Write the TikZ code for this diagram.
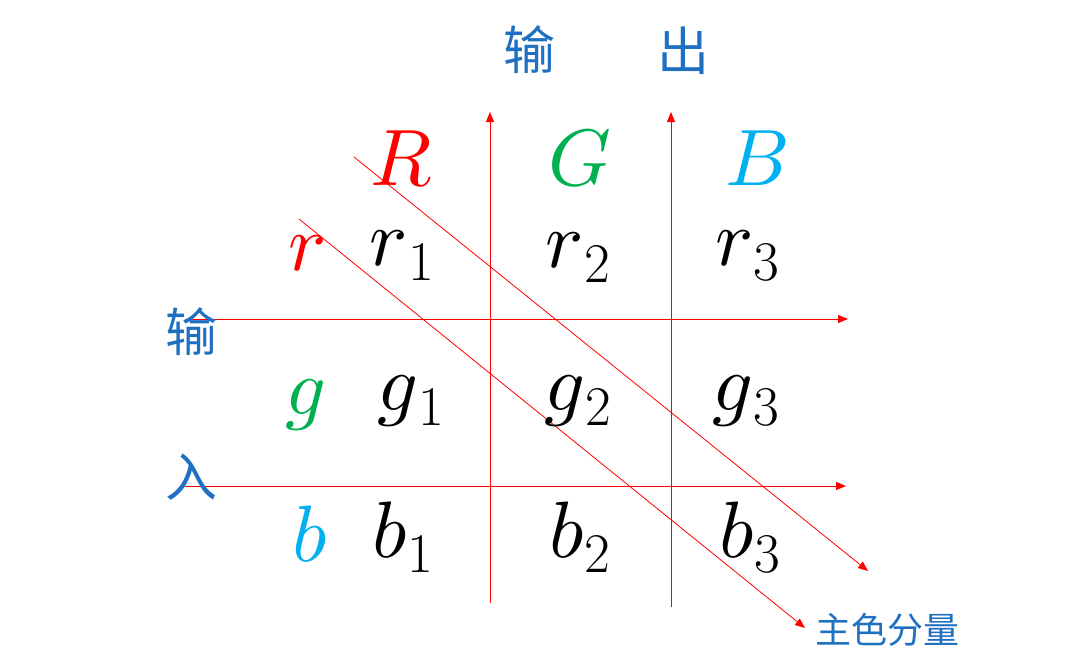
\documentclass[tikz,border=0pt]{standalone}
\usepackage{fontspec}
\newfontfamily\cjk{Noto Sans CJK SC}
\usetikzlibrary{arrows.meta}
% scalable math italic
\DeclareFontShape{OML}{cmm}{m}{it}{<-> cmmi10}{}
\DeclareFontShape{OT1}{cmr}{m}{n}{<-> cmr10}{}
\newcommand\subidx[1]{\raisebox{-15pt}{\fontsize{56}{56}\selectfont #1}}

\definecolor{cred}{RGB}{255,0,0}
\definecolor{cgreen}{RGB}{0,176,80}
\definecolor{ccyan}{RGB}{0,176,240}
\definecolor{cblue}{RGB}{31,112,192}

\tikzset{
  axis/.style={line width=0.8, color=cred, -{Triangle[length=10pt,width=8pt]}},
  entry/.style={inner sep=0, anchor=base, font=\fontsize{80}{80}\selectfont},
  cjklabel/.style={inner sep=0, text=cblue, font=\cjk\fontsize{52}{52}\selectfont},
}

\begin{document}
\begin{tikzpicture}[x=1pt, y=-1pt]
\useasboundingbox (0,0) rectangle (1078,657);
% axis end points
\coordinate (colA0) at (490,603);
\coordinate (colA1) at (490,112);
\coordinate (colB0) at (671,607);
\coordinate (colB1) at (671,112);
\coordinate (rowA0) at (185,319);
\coordinate (rowA1) at (848,319);
\coordinate (rowB0) at (185,486);
\coordinate (rowB1) at (846,486);
\coordinate (diagA0) at (354,157);
\coordinate (diagA1) at (868,571);
\coordinate (diagB0) at (299,219);
\coordinate (diagB1) at (805,628);
\draw[axis](colA0) -- (colA1);
\draw[axis](colB0) -- (colB1);
\draw[axis](rowA0) -- (rowA1);
\draw[axis](rowB0) -- (rowB1);
\draw[axis](diagA0) -- (diagA1);
\draw[axis](diagB0) -- (diagB1);
% labels
\node[cjklabel] (outA) at (529,50) {输};
\node[cjklabel] (outB) at (683,51) {出};
\node[cjklabel] (inA) at (191,332) {输};
\node[cjklabel] (inB) at (191,477) {入};
\node[cjklabel, font=\cjk\fontsize{36}{36}\selectfont] (main) at (887,630) {主色分量};
% column heads
\node[entry, text=cred] (hR) at (401,185) {$R$};
\node[entry, text=cgreen] (hG) at (580,185) {$G$};
\node[entry, text=ccyan] (hB) at (758,185) {$B$};
% row heads
\node[entry, text=cred] (hr) at (308,270) {$r$};
\node[entry, text=cgreen] (hg) at (306,414) {$g$};
\node[entry, text=ccyan] (hb) at (310,561) {$b$};
% matrix
\node[entry] (r1) at (402,265) {$r$\subidx{1}};
\node[entry] (r2) at (578,267) {$r$\subidx{2}};
\node[entry] (r3) at (747,265) {$r$\subidx{3}};
\node[entry] (g1) at (411,410) {$g$\subidx{1}};
\node[entry] (g2) at (578,410) {$g$\subidx{2}};
\node[entry] (g3) at (746,410) {$g$\subidx{3}};
\node[entry] (b1) at (403,557) {$b$\subidx{1}};
\node[entry] (b2) at (580,557) {$b$\subidx{2}};
\node[entry] (b3) at (750,557) {$b$\subidx{3}};
\end{tikzpicture}
\end{document}
